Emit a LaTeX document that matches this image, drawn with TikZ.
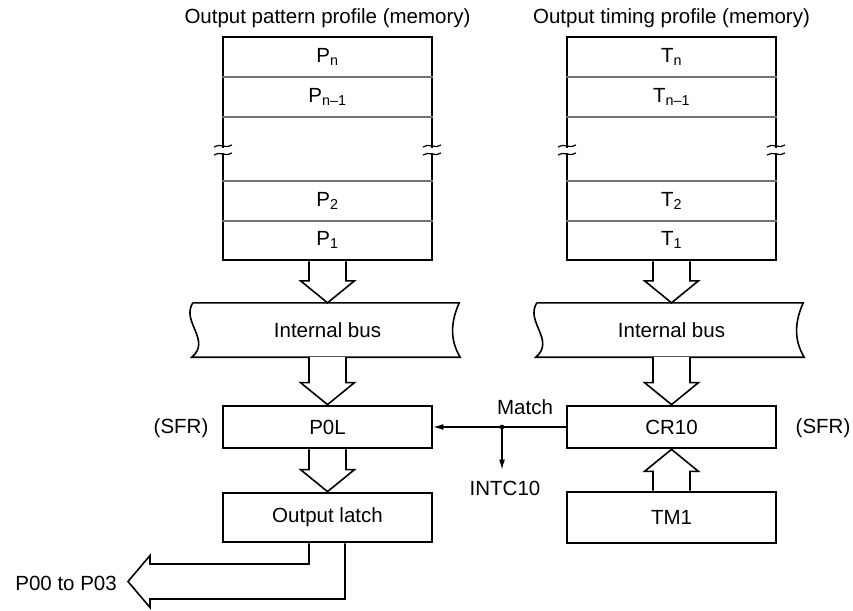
\documentclass[tikz,border=0pt]{standalone}
\usepackage{fontspec}
\setmainfont{Liberation Sans}
\usetikzlibrary{calc,arrows.meta}
\newcommand\fsz{\fontsize{20.5}{24}\selectfont}
\newcommand\hol[3]{%
  \draw[hollow] let \p1=(#1),\p2=(#2) in
    ({\x1-18.5},\y1) -- ({\x1-18.5},{\y2+(#3)}) -- ({\x1-27},{\y2+(#3)}) -- (\x1,\y2)
    -- ({\x1+27},{\y2+(#3)}) -- ({\x1+18.5},{\y2+(#3)}) -- ({\x1+18.5},\y1);}
\newcommand\brk[2]{%
  \fill[white] ({#1-3},{#2-1.5}) rectangle ({#1+3},{#2-6.5});
  \draw[line width=1.2pt] ({#1-9},{#2-1}) .. controls ({#1-4},{#2+3.5}) and ({#1+4},{#2-3.5}) .. ({#1+9},{#2+1});
  \draw[line width=1.2pt] ({#1-9},{#2-9}) .. controls ({#1-4},{#2-4.5}) and ({#1+4},{#2-11.5}) .. ({#1+9},{#2-7});}
\begin{document}
\begin{tikzpicture}[x=1pt,y=1pt,font=\fsz,
  box/.style={draw,line width=2.8pt,minimum width=209pt,inner sep=0pt},
  sep/.style={draw=black!55,line width=1.4pt},
  hollow/.style={draw,fill=white,line width=1.6pt,line join=miter},
  busline/.style={draw,fill=white,line width=1.6pt},
  thinline/.style={line width=1.1pt},
  lbl/.style={inner sep=0pt}]
\useasboundingbox (0,0) rectangle (853,-610);
\fill[white] (0,0) rectangle (853,-610);

% titles
\node[lbl] (titleL) at (327.5,-18) {Output pattern profile (memory)};
\node[lbl] (titleR) at (671.5,-18) {Output timing profile (memory)};

% memory boxes
\node[box,minimum height=223pt] (memL) at (327.5,-148.5) {};
\node[box,minimum height=223pt] (memR) at (671.5,-148.5) {};
\foreach \yy in {77,117,181,221}{
  \draw[sep] (memL.west |- 0,-\yy) -- (memL.east |- 0,-\yy);
  \draw[sep] (memR.west |- 0,-\yy) -- (memR.east |- 0,-\yy);
}
\brk{223}{-146}
\brk{432}{-146}
\brk{567}{-146}
\brk{776}{-146}

\node[lbl] (pn)  at (327.5,-57)  {P\textsubscript{n}};
\node[lbl] (pn1) at (327.5,-97)  {P\textsubscript{n–1}};
\node[lbl] (p2)  at (327.5,-201) {P\textsubscript{2}};
\node[lbl] (p1)  at (327.5,-240) {P\textsubscript{1}};
\node[lbl] (tn)  at (671.5,-57)  {T\textsubscript{n}};
\node[lbl] (tn1) at (671.5,-97)  {T\textsubscript{n–1}};
\node[lbl] (t2)  at (671.5,-201) {T\textsubscript{2}};
\node[lbl] (t1)  at (671.5,-240) {T\textsubscript{1}};

% internal buses
\node[minimum width=266pt,minimum height=54pt,inner sep=0pt] (busL) at (325.5,-330) {};
\node[minimum width=266pt,minimum height=54pt,inner sep=0pt] (busR) at (669.5,-330) {};
\foreach \b in {busL,busR}{
  \draw[busline] ($(\b.north west)+(0.5,0)$) -- ($(\b.north east)+(0.5,0)$)
    .. controls +(-8,-18) and +(-11,18) .. ($(\b.south east)+(1.5,0)$)
    -- ($(\b.south west)+(-0.5,0)$)
    .. controls +(20,17) and +(-12,-19) .. ($(\b.north west)+(0.5,0)$);
}
\node[lbl] at (327.5,-330) (busLt) {Internal bus};
\node[lbl] at (671.5,-330) (busRt) {Internal bus};

% registers
\node[box,minimum height=42pt] (p0l)   at (327.5,-427) {P0L};
\node[box,minimum height=49pt] (latch) at (327.5,-517.5) {Output latch};
\node[box,minimum height=42pt] (cr10)  at (671.5,-427) {CR10};
\node[box,minimum height=51pt] (tm1)   at (671.5,-517.5) {TM1};
\node[lbl] (sfrL) at (181,-428) {(SFR)};
\node[lbl] (sfrR) at (823,-428) {(SFR)};

% hollow arrows
\hol{memL.south}{memL.south |- busL.north}{22}
\hol{memR.south}{memR.south |- busR.north}{22}
\hol{p0l.north |- busL.south}{p0l.north}{22}
\hol{cr10.north |- busR.south}{cr10.north}{22}
\hol{p0l.south}{latch.north}{22}
\hol{tm1.north}{cr10.south}{-22}

% output arrow
\coordinate (outtip) at (128,-581.5);
\draw[hollow] let \p1=(latch.south) in
  ({\x1-18.5},\y1) -- ({\x1-18.5},-564) -- (150,-564) -- (150,-555.5)
  -- (outtip) -- (150,-607.5) -- (150,-599) -- ({\x1+17.5},-599) -- ({\x1+17.5},\y1);
\node[lbl,anchor=east] (pout) at (117,-583) {P00 to P03};

% match signal
\draw[thinline,-{Latex[length=10pt,width=6pt]}] (cr10.west) -- (p0l.east);
\coordinate (mdot) at (502,-427);
\fill (mdot) circle (2.3);
\node[lbl] (match) at (525,-407) {Match};
\node[lbl] (intc) at (505,-488) {INTC10};
\draw[thinline,-{Latex[length=10pt,width=6pt]},shorten >=11pt] (mdot) -- (mdot |- intc.north);
\end{tikzpicture}
\end{document}
